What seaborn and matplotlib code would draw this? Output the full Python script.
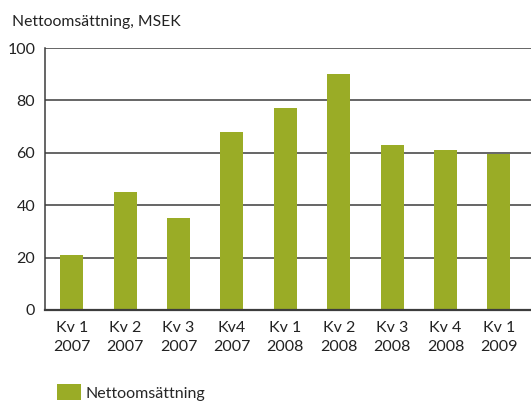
import matplotlib
matplotlib.use("Agg")
import matplotlib.pyplot as plt
import matplotlib.patches as mpatches
import seaborn as sns
import pandas as pd

# data
kvartal = ["Kv 1\n2007", "Kv 2\n2007", "Kv 3\n2007", "Kv4\n2007", "Kv 1\n2008",
           "Kv 2\n2008", "Kv 3\n2008", "Kv 4\n2008", "Kv 1\n2009"]
omsattning = [21, 45, 35, 68, 77, 90, 63, 61, 59.5]
y_ticks = [0, 20, 40, 60, 80, 100]

sns.set_theme(style="white")
plt.rcParams["font.family"] = ["Lato", "DejaVu Sans"]

bar_color = "#9aac26"
line_color = "#3c3c3c"

df = pd.DataFrame({"Kvartal": kvartal, "Nettoomsättning": omsattning})

fig = plt.figure(figsize=(5.31, 4.01), dpi=100)
ax = fig.add_axes([0.0847, 0.227, 0.9153, 0.653])

sns.barplot(data=df, x="Kvartal", y="Nettoomsättning", color=bar_color,
            width=0.43, saturation=1, ax=ax, zorder=3, linewidth=0,
            edgecolor="none")

ax.set_ylim(0, 100)
ax.set_xlim(-0.5, 8.6)
ax.set_yticks(y_ticks)
ax.set_yticklabels([str(t) for t in y_ticks], fontsize=11.5, color="#222222")
ax.tick_params(axis="x", labelsize=11.5, colors="#222222", length=0, pad=8)
ax.tick_params(axis="y", length=0, pad=7)
for lab in ax.get_xticklabels():
    lab.set_linespacing(1.45)

for t in y_ticks[1:]:
    ax.axhline(t, color=line_color, lw=1.1, zorder=1)

for s in ["top", "right"]:
    ax.spines[s].set_visible(False)
ax.spines["left"].set_color(line_color)
ax.spines["left"].set_linewidth(1.1)
ax.spines["bottom"].set_color(line_color)
ax.spines["bottom"].set_linewidth(1.6)
ax.spines["bottom"].set_zorder(4)

ax.set_xlabel("")
ax.set_ylabel("")

fig.text(0.022, 0.945, "Nettoomsättning, MSEK", fontsize=11.3, color="#222222",
         va="center", ha="left")

handle = mpatches.Patch(color=bar_color, label="Nettoomsättning", linewidth=0)
fig.legend(handles=[handle], loc="lower left", bbox_to_anchor=(0.08, -0.035),
           frameon=False, fontsize=11.5, handlelength=1.5, handleheight=1.2,
           handletextpad=0.3)

fig.savefig("out.png", dpi=100)
